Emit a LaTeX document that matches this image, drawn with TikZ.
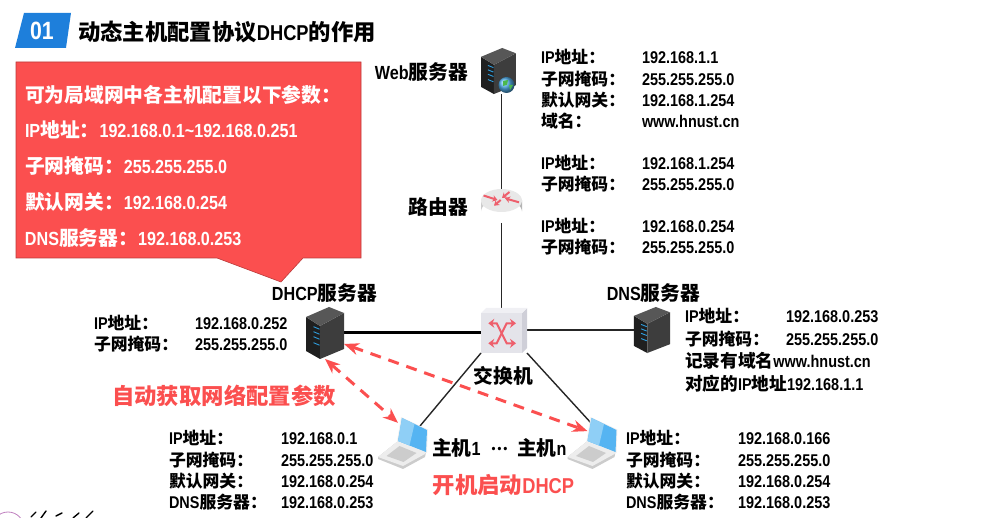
\documentclass[tikz,border=0pt]{standalone}
\usepackage{fontspec}
\usepackage{amsmath}
\usetikzlibrary{arrows.meta, positioning, shapes.geometric}
\setmainfont{Liberation Sans}[FakeStretch=0.85]
\newfontfamily\cjk{Noto Sans CJK SC}[Scale=1.04]
\newfontfamily\cjks{Noto Sans CJK SC}[Scale=0.99]
\definecolor{hnred}{HTML}{FB4F4F}
\definecolor{hnblue}{HTML}{1E7FDB}
\definecolor{arrowred}{HTML}{EE5F6C}
\definecolor{screenblue}{HTML}{55B4F2}
\definecolor{screenlight}{HTML}{8FCFF6}
\definecolor{stripe}{HTML}{2F9FE0}
\definecolor{switchface}{HTML}{E4E4EA}
\definecolor{switchside}{HTML}{CFCFD8}
\definecolor{switchtop}{HTML}{F0F0F4}
\newcommand{\ipl}{IP{\cjks 地址：}}
\newcommand{\netl}{{\cjks 子网掩码：}}
\newcommand{\gwl}{{\cjks 默认网关：}}
\newcommand{\dnsl}{DNS{\cjks 服务器：}}
\tikzset{
  serverpic/.pic={
    \fill[black!88] (-19,-16) -- (-5,-7) -- (-5,26) -- (-19,18) -- cycle;
    \fill[black!76] (-5,-7) -- (19,-20) -- (19,16) -- (-5,26) -- cycle;
    \fill[black!66] (-19,-16) -- (4,-26) -- (19,-20) -- (-5,-7) -- cycle;
    \foreach \yy in {-6.3,-1.3,3.7,9.7}
      \draw[stripe, line width=0.9pt] (-11.5,\yy) -- (-5.5,\yy+2.5);
  },
  routerpic/.pic={
    \shade[left color=black!20, right color=black!30, middle color=black!14]
      (-20.5,-5.5) -- (-20.5,5.5) arc[start angle=180, end angle=360, x radius=20.5, y radius=11.5]
      -- (20.5,-5.5) -- cycle;
    \fill[black!9] (0,-5.5) ellipse[x radius=20.5, y radius=11.5];
    \foreach \xa/\ya/\xb/\yb in {-18/-10.5/-4/-6, 8/-14/0.5/-8, 17.5/-3.7/3.5/-7.7, -0.8/-6/-7.5/-0.3}
      \draw[arrowred, line width=2pt, -{Stealth[length=5pt,width=6.5pt]}] (\xa,\ya) -- (\xb,\yb);
  },
  switchpic/.pic={
    \fill[switchside] (18,-17.5) -- (23,-22.5) -- (23,17.5) -- (18,22.5) -- cycle;
    \fill[switchtop] (-23,-17.5) -- (-18,-22.5) -- (23,-22.5) -- (18,-17.5) -- cycle;
    \fill[switchface] (-23,-17.5) rectangle (18,22.5);
    \draw[arrowred, line width=2pt, {Stealth[length=6pt,width=9pt]}-{Stealth[length=6pt,width=9pt]}]
      (-15.7,-7.2) -- (-7.3,-7.2) -- (2.7,12.8) -- (12,12.8);
    \draw[arrowred, line width=2pt, {Stealth[length=6pt,width=9pt]}-{Stealth[length=6pt,width=9pt]}]
      (-15.7,12.8) -- (-7.3,12.8) -- (2.7,-7.2) -- (12,-7.2);
  },
  laptoppic/.pic={
    \fill[black!20] (-34.5,22) -- (-14.5,6) -- (13.5,17) -- (12.5,22) -- (-9.5,34) -- (-34.5,24) -- cycle;
    \fill[black!7] (-34.5,22) -- (-14.5,6) -- (13.5,17) -- (12.5,19) -- (-9.5,31) -- cycle;
    \fill[black!20] (-26,21) -- (-13,11) -- (4,18) -- (-9,27) -- cycle;
    \fill[black!6] (-11.5,-18) -- (15.5,-5.5) -- (14.5,18) -- (-15.5,6.5) -- cycle;
    \fill[screenblue] (-10.5,-17) -- (14.5,-5) -- (13.5,17) -- (-14.5,6) -- cycle;
    \fill[screenlight] (-10.5,-17) -- (2,-11) -- (-3,10.5) -- (-14.5,6) -- cycle;
  }
}
\begin{document}
\begin{tikzpicture}[
    x=1pt, y=-1pt,
    every node/.style={inner sep=0pt, outer sep=0pt},
    title/.style={anchor=west, font=\fontsize{21.5}{25}\selectfont\bfseries},
    devlabel/.style={font=\fontsize{19}{23}\selectfont\bfseries},
    info/.style={anchor=west, font=\fontsize{17}{21.3}\selectfont\bfseries},
    redtext/.style={text=hnred, font=\fontsize{21.5}{25}\selectfont\bfseries},
    link/.style={draw=black!85, line width=1.4pt},
    dhcparrow/.style={draw=hnred, line width=3pt, dash pattern=on 11pt off 8pt,
      {Stealth[length=15pt,width=12pt]}-{Stealth[length=15pt,width=12pt]}}
  ]
  \useasboundingbox (0,0) rectangle (989,518);

  % heading
  \fill[hnblue] (15,48) -- (24,13) -- (71,13) -- (66,48) -- cycle;
  \node[text=white, font=\fontsize{25}{28}\selectfont\bfseries] (num) at (42,31) {01};
  \node[title] (heading) at (78,32) {{\cjk 动态主机配置协议}DHCP{\cjk 的作用}};

  % red callout
  \filldraw[fill=hnred, draw=hnred!75!black, line width=0.6pt]
    (16,62) -- (361,62) -- (361,258) -- (303,258) -- (281,282) -- (217,258) -- (16,258) -- cycle;
  \node[anchor=west, align=left, text=white, font=\fontsize{19}{35.8}\selectfont\bfseries] (params) at (25,166) {%
    {\cjk 可为局域网中各主机配置以下参数：}\\
    IP{\cjk 地址：}192.168.0.1\textasciitilde 192.168.0.251\\
    {\cjk 子网掩码：}255.255.255.0\\
    {\cjk 默认网关：}192.168.0.254\\
    DNS{\cjk 服务器：}192.168.0.253};

  % devices
  \node[minimum width=35pt, minimum height=46pt] (web) at (498.5,71) {};
  \node[minimum width=41pt, minimum height=34pt] (router) at (501.5,206) {};
  \node[minimum width=46pt, minimum height=45pt] (switch) at (504,330.5) {};
  \node[minimum width=38pt, minimum height=52pt] (dhcp) at (325,333) {};
  \node[minimum width=36pt, minimum height=46pt] (dns) at (652,330) {};
  \node[minimum width=29pt, minimum height=34pt] (host1) at (412.5,435) {};
  \node[minimum width=29pt, minimum height=34pt] (hostn) at (602,435) {};

  % links
  \draw[link] (router.north) -- (router.north |- web.south);
  \draw[link] (router.south) -- (router.south |- switch.north);
  \draw[draw=black, line width=3pt] (dhcp.east) -- (dhcp.east -| switch.west);
  \draw[link] (switch.east |- dns.west) -- (dns.west);
  \draw[link] (switch.south west) -- (host1.center);
  \draw[link] (switch.south east) -- (hostn.center);

  \pic[xscale=0.92, yscale=0.885] at (web) {serverpic};
  \shade[ball color=screenblue] (506.5,85) circle (8);
  \fill[green!60!black!70] (503,81) -- (508,80) -- (507,85) -- (503,86) -- cycle;
  \fill[green!60!black!70] (509,85) -- (513,85) -- (510,90) -- cycle;
  \pic at (router) {routerpic};
  \pic at (switch) {switchpic};
  \pic at (dhcp) {serverpic};
  \pic[xscale=0.95, yscale=0.885] at (dns) {serverpic};
  \pic at (host1) {laptoppic};
  \pic at (hostn) {laptoppic};

  % device names
  \node[devlabel, anchor=east] (weblab) at (468,72) {Web{\cjk 服务器}};
  \node[devlabel, anchor=east] (routerlab) at (468,207) {{\cjk 路由器}};
  \node[devlabel] (dhcplab) at (324.5,293) {DHCP{\cjk 服务器}};
  \node[devlabel] (dnslab) at (653.5,293) {DNS{\cjk 服务器}};
  \node[devlabel] (switchlab) at (503.5,376) {{\cjk 交换机}};
  \node[devlabel, anchor=west] (host1lab) at (432,448) {{\cjk 主机}1};
  \node[devlabel, font=\fontsize{15}{18}\selectfont\bfseries] (dots) at (499.5,449) {{\cjk ⋯}};
  \node[devlabel, anchor=west] (hostnlab) at (517,448) {{\cjk 主机}n};

  % address tables
  \node[info] (webinfo) at (541,91.5) {\begin{tabular}{@{}p{101pt}@{}l@{}}
    \ipl & 192.168.1.1\\ \netl & 255.255.255.0\\ \gwl & 192.168.1.254\\ {\cjks 域名：} & www.hnust.cn
  \end{tabular}};
  \node[info] (routerinfoa) at (541,176) {\begin{tabular}{@{}p{101pt}@{}l@{}}
    \ipl & 192.168.1.254\\ \netl & 255.255.255.0
  \end{tabular}};
  \node[info] (routerinfob) at (541,239) {\begin{tabular}{@{}p{101pt}@{}l@{}}
    \ipl & 192.168.0.254\\ \netl & 255.255.255.0
  \end{tabular}};
  \node[info] (dhcpinfo) at (94,335.5) {\begin{tabular}{@{}p{101pt}@{}l@{}}
    \ipl & 192.168.0.252\\ \netl & 255.255.255.0
  \end{tabular}};
  \node[info, font=\fontsize{17}{22.6}\selectfont\bfseries] (dnsinfo) at (685,352) {\begin{tabular}{@{}p{101pt}@{}l@{}}
    \ipl & 192.168.0.253\\ \netl & 255.255.255.0\\
    \multicolumn{2}{@{}l@{}}{{\cjk 记录有域名}www.hnust.cn}\\
    \multicolumn{2}{@{}l@{}}{{\cjk 对应的}IP{\cjk 地址}192.168.1.1}
  \end{tabular}};
  \node[info] (host1info) at (169,472.5) {\begin{tabular}{@{}p{112pt}@{}l@{}}
    \ipl & 192.168.0.1\\ \netl & 255.255.255.0\\ \gwl & 192.168.0.254\\ \dnsl & 192.168.0.253
  \end{tabular}};
  \node[info] (hostninfo) at (626,472.5) {\begin{tabular}{@{}p{112pt}@{}l@{}}
    \ipl & 192.168.0.166\\ \netl & 255.255.255.0\\ \gwl & 192.168.0.254\\ \dnsl & 192.168.0.253
  \end{tabular}};

  % dhcp exchange
  \draw[dhcparrow] (dhcp.south) -- (host1.140);
  \draw[dhcparrow] (dhcp.-30) -- (hostn.165);
  \node[redtext] (autolab) at (224,396) {{\cjk 自动获取网络配置参数}};
  \node[redtext] (bootlab) at (503.5,485) {{\cjk 开机启动}DHCP};

  % logo at the page edge
  \draw[violet!50, line width=0.8pt] (8,528) circle (16);
  \draw[black, line width=1.4pt, line cap=round] (31,517) -- (36,512);
  \draw[black, line width=1.4pt, line cap=round] (41,518) -- (46,511);
  \draw[black, line width=1.4pt, line cap=round] (56,516) -- (62,513);
  \draw[black, line width=1.4pt, line cap=round] (73,518) -- (79,513);
  \draw[black, line width=1.4pt, line cap=round] (86,518) -- (93,511);
\end{tikzpicture}
\end{document}
